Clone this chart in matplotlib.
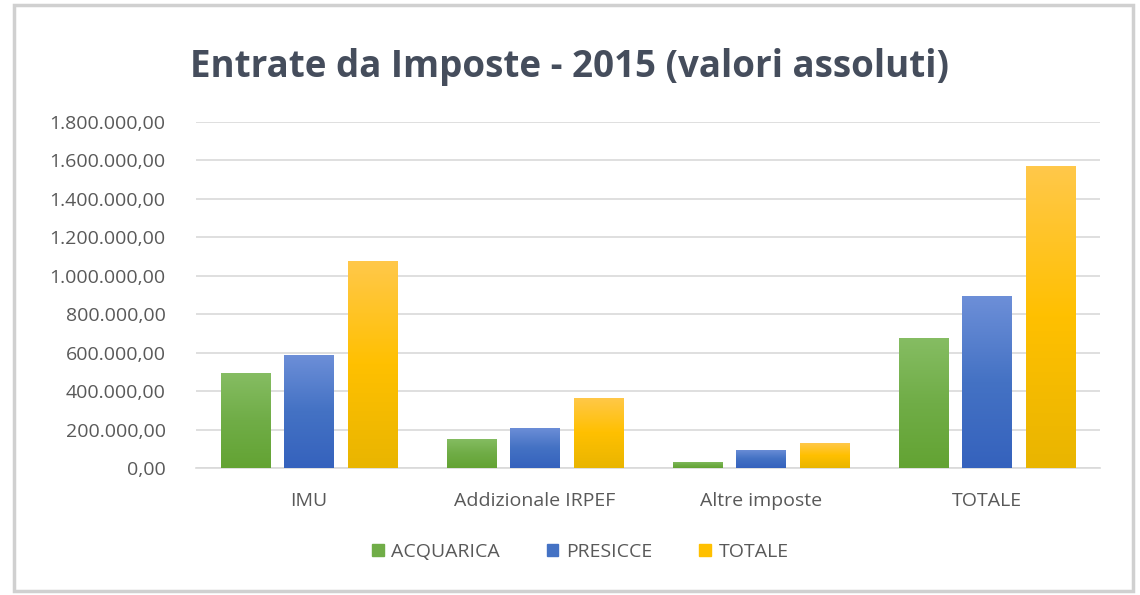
import numpy as np
import matplotlib.pyplot as plt
from matplotlib.colors import LinearSegmentedColormap
from matplotlib.patches import Rectangle, Patch
from matplotlib.ticker import FuncFormatter

categorie = ['IMU', 'Addizionale IRPEF', 'Altre imposte', 'TOTALE']
serie = ['ACQUARICA', 'PRESICCE', 'TOTALE']
acquarica = [495000, 151000, 33000, 679000]
presicce = [589000, 210000, 94000, 893000]
totale = [1075000, 365000, 130000, 1570000]

# colori gradiente (alto, centro, basso)
gradienti = [
    ['#86bd63', '#70ad47', '#63a333'],
    ['#6d8fd8', '#4472c4', '#3562bd'],
    ['#ffc84a', '#ffc000', '#e9b500'],
]
colori_legenda = ['#70ad47', '#4472c4', '#ffc000']


def formato_it(v, pos):
    s = f"{v:,.2f}"
    return s.replace(',', 'X').replace('.', ',').replace('X', '.')


plt.rcParams['font.family'] = ['Open Sans', 'DejaVu Sans']
fig = plt.figure(figsize=(11.4, 5.95), dpi=100)
ax = fig.add_axes([0.172, 0.2134, 0.793, 0.5815])

# cornice con ombra
fig.patches.append(Rectangle((0.012, 0.006), 0.982, 0.986, transform=fig.transFigure,
                             facecolor='none', edgecolor='#d0d0d0', linewidth=2.5))

x = np.arange(len(categorie))
larghezza = 0.22
passo = 0.28
valori = [acquarica, presicce, totale]
for i, vals in enumerate(valori):
    cmap = LinearSegmentedColormap.from_list('g%d' % i, gradienti[i])
    barre = ax.bar(x + (i - 1) * passo, vals, width=larghezza, color=gradienti[i][1], zorder=2)
    for b in barre:
        bx, by = b.get_x(), b.get_y()
        w, h = b.get_width(), b.get_height()
        grad = np.linspace(0, 1, 256).reshape(-1, 1)
        im = ax.imshow(grad, cmap=cmap, aspect='auto', extent=[bx, bx + w, by, by + h],
                       origin='upper', zorder=3)
        im.set_clip_path(b)

ax.set_xlim(-0.5, 3.5)
ax.set_ylim(0, 1800000)
ax.set_yticks(np.arange(0, 1800001, 200000))
ax.yaxis.set_major_formatter(FuncFormatter(formato_it))
ax.set_xticks(x)
ax.set_xticklabels(categorie)
ax.grid(axis='y', color='#d9d9d9', linewidth=1.2, zorder=0)
ax.set_axisbelow(True)
for s in ['top', 'right', 'left']:
    ax.spines[s].set_visible(False)
ax.spines['bottom'].set_color('#d9d9d9')
ax.spines['bottom'].set_linewidth(1.2)
ax.tick_params(axis='both', length=0, labelsize=14, colors='#595959')
ax.tick_params(axis='x', pad=17)
ax.tick_params(axis='y', pad=22)

fig.text(0.5, 0.888, 'Entrate da Imposte - 2015 (valori assoluti)', ha='center', va='center',
         fontsize=26.5, fontweight='bold', color='#454d5c')

handles = [Patch(color=c) for c in colori_legenda]
fig.legend(handles, serie, loc='center', bbox_to_anchor=(0.509, 0.073), ncol=3, frameon=False,
           fontsize=14, labelcolor='#595959', handlelength=0.6, handleheight=0.6,
           handletextpad=0.4, columnspacing=2.4)

fig.savefig('out.png', dpi=100)
